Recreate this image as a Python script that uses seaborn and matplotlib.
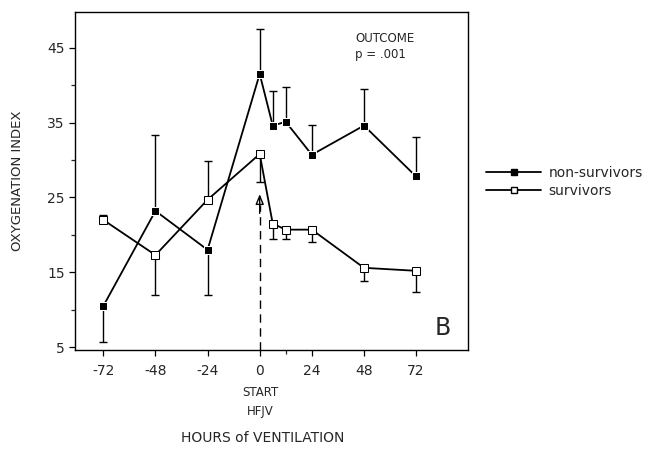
import numpy as np
import pandas as pd
import matplotlib
matplotlib.use("Agg")
import matplotlib.pyplot as plt
import seaborn as sns
from matplotlib.lines import Line2D

# données
hours = [-72, -48, -24, 0, 6, 12, 24, 48, 72]
non_surv = [10.5, 23.2, 18.0, 41.5, 34.6, 35.1, 30.7, 34.6, 27.8]
non_surv_lo = [4.8, 0, 6.0, 0, 0, 0, 0, 0, 0]
non_surv_hi = [0, 10.1, 0, 6.0, 4.6, 4.7, 4.0, 4.9, 5.3]
surv = [22.0, 17.3, 24.7, 30.8, 21.5, 20.7, 20.7, 15.6, 15.2]
surv_lo = [0, 5.3, 0, 3.8, 2.0, 1.2, 1.7, 1.8, 2.8]
surv_hi = [0.6, 0, 5.2, 0, 0, 0, 0, 0, 0]

x_ticks = [-72, -48, -24, 0, 24, 48, 72]
y_ticks = [5, 15, 25, 35, 45]

sns.set_style("ticks")
plt.rcParams['font.family'] = ['DejaVu Sans']
plt.rcParams['axes.unicode_minus'] = False

df = pd.DataFrame({
    "hours": hours * 2,
    "oi": non_surv + surv,
    "group": ["non-survivors"] * len(hours) + ["survivors"] * len(hours),
})

fig = plt.figure(figsize=(6.53, 4.53), dpi=100)
ax = fig.add_axes([0.115, 0.227, 0.602, 0.747])

# barres d'erreur unilatérales
ax.errorbar(hours, non_surv, yerr=[non_surv_lo, non_surv_hi], fmt="none",
            ecolor="black", elinewidth=1.0, capsize=3, capthick=1.0, zorder=2)
ax.errorbar(hours, surv, yerr=[surv_lo, surv_hi], fmt="none",
            ecolor="black", elinewidth=1.0, capsize=3, capthick=1.0, zorder=2)

sns.lineplot(data=df, x="hours", y="oi", hue="group", style="group",
             palette={"non-survivors": "black", "survivors": "black"},
             markers={"non-survivors": "s", "survivors": "s"}, dashes=False,
             linewidth=1.3, markersize=5.5, ax=ax, legend=False, zorder=3)
# remplissage blanc pour les survivants
lines = ax.get_lines()
lines[-1].set_markerfacecolor("white")
lines[-1].set_markeredgecolor("black")
lines[-2].set_markerfacecolor("black")

# début HFJV
ax.plot([0, 0], [4.6, 24.0], color="black", lw=1.0, ls=(0, (6, 4)), zorder=1)
ax.annotate("", xy=(0, 25.8), xytext=(0, 22.5),
            arrowprops=dict(arrowstyle="-|>,head_width=0.25,head_length=0.6",
                            color="black", lw=1.0, fill=False))

ax.set_xlim(-85, 96)
ax.set_ylim(4.6, 49.8)
ax.set_xticks(x_ticks)
ax.set_xticks([12], minor=True)
ax.set_yticks(y_ticks)
ax.set_yticks([10, 20, 30, 40], minor=True)
ax.tick_params(axis="both", labelsize=10, length=4, width=0.9, color="black")
ax.tick_params(axis="both", which="minor", length=3, width=0.9)
ax.tick_params(axis="x", pad=6)
for s in ax.spines.values():
    s.set_linewidth(1.0)
    s.set_color("black")

ax.set_xlabel("")
ax.set_ylabel("OXYGENATION INDEX", fontsize=9.5)
ax.yaxis.set_label_coords(-0.13, 0.5)

ax.text(0.713, 0.94, "OUTCOME\np = .001", transform=ax.transAxes,
        fontsize=8.5, va="top", ha="left", linespacing=1.3)
ax.text(0.935, 0.03, "B", transform=ax.transAxes, fontsize=17,
        ha="center", va="bottom")

fig.text(260 / 653, 1 - 402 / 453, "START\nHFJV", fontsize=8.5,
         ha="center", va="center", linespacing=1.6)
fig.text(263 / 653, 1 - 438 / 453, "HOURS of VENTILATION", fontsize=10,
         ha="center", va="center")

# légende hors du cadre
handles = [
    Line2D([], [], color="black", lw=1.3, marker="s", markersize=4,
           markerfacecolor="black"),
    Line2D([], [], color="black", lw=1.3, marker="s", markersize=4,
           markerfacecolor="white"),
]
fig.legend(handles, ["non-survivors", "survivors"], loc="center left",
           bbox_to_anchor=(0.725, 0.598), frameon=False, fontsize=10,
           handlelength=4.0, handletextpad=0.5, labelspacing=0.3)

fig.savefig("out.png", dpi=100)
